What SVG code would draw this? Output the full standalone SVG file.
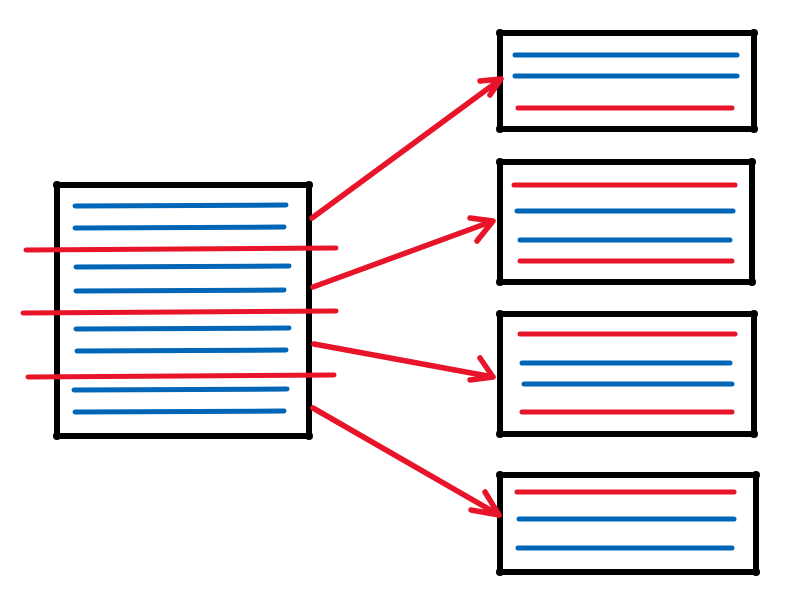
<svg xmlns="http://www.w3.org/2000/svg" width="800" height="604" viewBox="0 0 800 604">
<style>
.box{fill:#fff;stroke:#000;stroke-width:6;stroke-linecap:round;stroke-linejoin:round}
.c{fill:#000}
.b{stroke:#0066b8;stroke-width:5;stroke-linecap:round;fill:none}
.r{stroke:#e8142a;stroke-width:5;stroke-linecap:round;fill:none}
.a{stroke:#e8142a;stroke-width:5.5;stroke-linecap:round;stroke-linejoin:round;fill:none}
</style>
<rect width="800" height="604" fill="#fff"/>
<g id="source">
<path class="box" d="M57 185 L309 185 L309 436 L57 436 Z"/>
<circle class="c" cx="57" cy="185" r="4"/><circle class="c" cx="309" cy="185" r="4"/><circle class="c" cx="309" cy="436" r="4"/><circle class="c" cx="57" cy="436" r="4"/>
<line class="b" x1="75" y1="206" x2="286" y2="205"/>
<line class="b" x1="75" y1="228" x2="284" y2="227"/>
<line class="b" x1="76" y1="267" x2="289" y2="266"/>
<line class="b" x1="76" y1="291" x2="284" y2="290"/>
<line class="b" x1="76" y1="329" x2="289" y2="328"/>
<line class="b" x1="77" y1="351" x2="286" y2="350"/>
<line class="b" x1="74" y1="390" x2="287" y2="389"/>
<line class="b" x1="75" y1="412" x2="284" y2="411"/>
<line class="r" x1="26" y1="250" x2="336" y2="248"/>
<line class="r" x1="23" y1="313" x2="336" y2="311"/>
<line class="r" x1="28" y1="377" x2="334" y2="375"/>
</g>
<g id="target1">
<path class="box" d="M500 33 L754 33 L754 129 L500 129 Z"/>
<circle class="c" cx="500" cy="33" r="4"/><circle class="c" cx="754" cy="33" r="4"/><circle class="c" cx="754" cy="129" r="4"/><circle class="c" cx="500" cy="129" r="4"/>
<line class="b" x1="515" y1="55" x2="737" y2="55"/>
<line class="b" x1="515" y1="76" x2="737" y2="76"/>
<line class="r" x1="518" y1="108" x2="732" y2="108"/>
</g>
<g id="target2">
<path class="box" d="M500 162 L752 162 L752 282 L500 282 Z"/>
<circle class="c" cx="500" cy="162" r="4"/><circle class="c" cx="752" cy="162" r="4"/><circle class="c" cx="752" cy="282" r="4"/><circle class="c" cx="500" cy="282" r="4"/>
<line class="r" x1="514" y1="185" x2="735" y2="185"/>
<line class="b" x1="517" y1="211" x2="733" y2="211"/>
<line class="b" x1="520" y1="240" x2="730" y2="240"/>
<line class="r" x1="520" y1="261" x2="732" y2="261"/>
</g>
<g id="target3">
<path class="box" d="M500 314 L754 314 L754 434 L500 434 Z"/>
<circle class="c" cx="500" cy="314" r="4"/><circle class="c" cx="754" cy="314" r="4"/><circle class="c" cx="754" cy="434" r="4"/><circle class="c" cx="500" cy="434" r="4"/>
<line class="r" x1="520" y1="334" x2="735" y2="334"/>
<line class="b" x1="522" y1="363" x2="730" y2="363"/>
<line class="b" x1="524" y1="384" x2="732" y2="384"/>
<line class="r" x1="522" y1="412" x2="732" y2="412"/>
</g>
<g id="target4">
<path class="box" d="M500 475 L756 475 L756 572 L500 572 Z"/>
<circle class="c" cx="500" cy="475" r="4"/><circle class="c" cx="756" cy="475" r="4"/><circle class="c" cx="756" cy="572" r="4"/><circle class="c" cx="500" cy="572" r="4"/>
<line class="r" x1="517" y1="492" x2="734" y2="492"/>
<line class="b" x1="519" y1="519" x2="734" y2="519"/>
<line class="b" x1="518" y1="548" x2="732" y2="548"/>
</g>
<g id="connectors">
<path class="a" d="M312 218 L501 79 M480 81 L501 79 L490 95"/>
<path class="a" d="M313 287 L493 221 M470 218 L493 221 L477 241"/>
<path class="a" d="M314 344 L493 377 M480 358 L493 377 L470 380"/>
<path class="a" d="M313 408 L499 515 M485 492 L499 515 L471 510"/>
</g>
</svg>
